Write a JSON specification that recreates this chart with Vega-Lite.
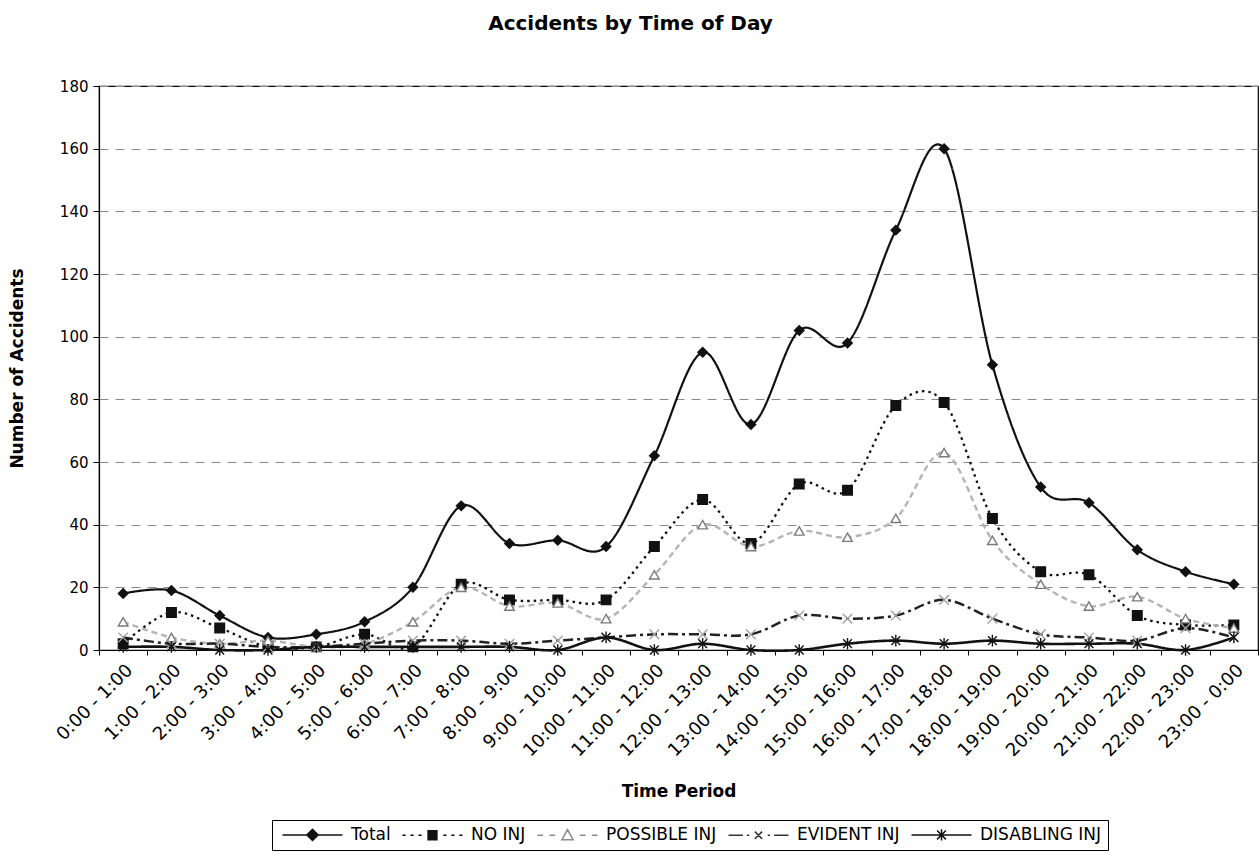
{
  "$schema": "https://vega.github.io/schema/vega-lite/v6.json",
  "autosize": {"type": "none"},
  "padding": {"left": 99, "top": 86, "right": 2, "bottom": 205},
  "width": 1159,
  "height": 564,
  "background": "white",
  "title": {
    "text": "Accidents by Time of Day",
    "font": "DejaVu Sans",
    "fontSize": 20,
    "fontWeight": "bold",
    "color": "black",
    "anchor": "middle",
    "dx": -48,
    "offset": 45
  },
  "data": {
    "values": [
      {"period": "0:00 - 1:00", "series": "Total", "count": 18},
      {"period": "1:00 - 2:00", "series": "Total", "count": 19},
      {"period": "2:00 - 3:00", "series": "Total", "count": 11},
      {"period": "3:00 - 4:00", "series": "Total", "count": 4},
      {"period": "4:00 - 5:00", "series": "Total", "count": 5},
      {"period": "5:00 - 6:00", "series": "Total", "count": 9},
      {"period": "6:00 - 7:00", "series": "Total", "count": 20},
      {"period": "7:00 - 8:00", "series": "Total", "count": 46},
      {"period": "8:00 - 9:00", "series": "Total", "count": 34},
      {"period": "9:00 - 10:00", "series": "Total", "count": 35},
      {"period": "10:00 - 11:00", "series": "Total", "count": 33},
      {"period": "11:00 - 12:00", "series": "Total", "count": 62},
      {"period": "12:00 - 13:00", "series": "Total", "count": 95},
      {"period": "13:00 - 14:00", "series": "Total", "count": 72},
      {"period": "14:00 - 15:00", "series": "Total", "count": 102},
      {"period": "15:00 - 16:00", "series": "Total", "count": 98},
      {"period": "16:00 - 17:00", "series": "Total", "count": 134},
      {"period": "17:00 - 18:00", "series": "Total", "count": 160},
      {"period": "18:00 - 19:00", "series": "Total", "count": 91},
      {"period": "19:00 - 20:00", "series": "Total", "count": 52},
      {"period": "20:00 - 21:00", "series": "Total", "count": 47},
      {"period": "21:00 - 22:00", "series": "Total", "count": 32},
      {"period": "22:00 - 23:00", "series": "Total", "count": 25},
      {"period": "23:00 - 0:00", "series": "Total", "count": 21},

      {"period": "0:00 - 1:00", "series": "NO INJ", "count": 2},
      {"period": "1:00 - 2:00", "series": "NO INJ", "count": 12},
      {"period": "2:00 - 3:00", "series": "NO INJ", "count": 7},
      {"period": "3:00 - 4:00", "series": "NO INJ", "count": 1},
      {"period": "4:00 - 5:00", "series": "NO INJ", "count": 1},
      {"period": "5:00 - 6:00", "series": "NO INJ", "count": 5},
      {"period": "6:00 - 7:00", "series": "NO INJ", "count": 1},
      {"period": "7:00 - 8:00", "series": "NO INJ", "count": 21},
      {"period": "8:00 - 9:00", "series": "NO INJ", "count": 16},
      {"period": "9:00 - 10:00", "series": "NO INJ", "count": 16},
      {"period": "10:00 - 11:00", "series": "NO INJ", "count": 16},
      {"period": "11:00 - 12:00", "series": "NO INJ", "count": 33},
      {"period": "12:00 - 13:00", "series": "NO INJ", "count": 48},
      {"period": "13:00 - 14:00", "series": "NO INJ", "count": 34},
      {"period": "14:00 - 15:00", "series": "NO INJ", "count": 53},
      {"period": "15:00 - 16:00", "series": "NO INJ", "count": 51},
      {"period": "16:00 - 17:00", "series": "NO INJ", "count": 78},
      {"period": "17:00 - 18:00", "series": "NO INJ", "count": 79},
      {"period": "18:00 - 19:00", "series": "NO INJ", "count": 42},
      {"period": "19:00 - 20:00", "series": "NO INJ", "count": 25},
      {"period": "20:00 - 21:00", "series": "NO INJ", "count": 24},
      {"period": "21:00 - 22:00", "series": "NO INJ", "count": 11},
      {"period": "22:00 - 23:00", "series": "NO INJ", "count": 8},
      {"period": "23:00 - 0:00", "series": "NO INJ", "count": 8},

      {"period": "0:00 - 1:00", "series": "POSSIBLE INJ", "count": 9},
      {"period": "1:00 - 2:00", "series": "POSSIBLE INJ", "count": 4},
      {"period": "2:00 - 3:00", "series": "POSSIBLE INJ", "count": 2},
      {"period": "3:00 - 4:00", "series": "POSSIBLE INJ", "count": 3},
      {"period": "4:00 - 5:00", "series": "POSSIBLE INJ", "count": 1},
      {"period": "5:00 - 6:00", "series": "POSSIBLE INJ", "count": 2},
      {"period": "6:00 - 7:00", "series": "POSSIBLE INJ", "count": 9},
      {"period": "7:00 - 8:00", "series": "POSSIBLE INJ", "count": 20},
      {"period": "8:00 - 9:00", "series": "POSSIBLE INJ", "count": 14},
      {"period": "9:00 - 10:00", "series": "POSSIBLE INJ", "count": 15},
      {"period": "10:00 - 11:00", "series": "POSSIBLE INJ", "count": 10},
      {"period": "11:00 - 12:00", "series": "POSSIBLE INJ", "count": 24},
      {"period": "12:00 - 13:00", "series": "POSSIBLE INJ", "count": 40},
      {"period": "13:00 - 14:00", "series": "POSSIBLE INJ", "count": 33},
      {"period": "14:00 - 15:00", "series": "POSSIBLE INJ", "count": 38},
      {"period": "15:00 - 16:00", "series": "POSSIBLE INJ", "count": 36},
      {"period": "16:00 - 17:00", "series": "POSSIBLE INJ", "count": 42},
      {"period": "17:00 - 18:00", "series": "POSSIBLE INJ", "count": 63},
      {"period": "18:00 - 19:00", "series": "POSSIBLE INJ", "count": 35},
      {"period": "19:00 - 20:00", "series": "POSSIBLE INJ", "count": 21},
      {"period": "20:00 - 21:00", "series": "POSSIBLE INJ", "count": 14},
      {"period": "21:00 - 22:00", "series": "POSSIBLE INJ", "count": 17},
      {"period": "22:00 - 23:00", "series": "POSSIBLE INJ", "count": 10},
      {"period": "23:00 - 0:00", "series": "POSSIBLE INJ", "count": 7},

      {"period": "0:00 - 1:00", "series": "EVIDENT INJ", "count": 4},
      {"period": "1:00 - 2:00", "series": "EVIDENT INJ", "count": 2},
      {"period": "2:00 - 3:00", "series": "EVIDENT INJ", "count": 2},
      {"period": "3:00 - 4:00", "series": "EVIDENT INJ", "count": 1},
      {"period": "4:00 - 5:00", "series": "EVIDENT INJ", "count": 1},
      {"period": "5:00 - 6:00", "series": "EVIDENT INJ", "count": 2},
      {"period": "6:00 - 7:00", "series": "EVIDENT INJ", "count": 3},
      {"period": "7:00 - 8:00", "series": "EVIDENT INJ", "count": 3},
      {"period": "8:00 - 9:00", "series": "EVIDENT INJ", "count": 2},
      {"period": "9:00 - 10:00", "series": "EVIDENT INJ", "count": 3},
      {"period": "10:00 - 11:00", "series": "EVIDENT INJ", "count": 4},
      {"period": "11:00 - 12:00", "series": "EVIDENT INJ", "count": 5},
      {"period": "12:00 - 13:00", "series": "EVIDENT INJ", "count": 5},
      {"period": "13:00 - 14:00", "series": "EVIDENT INJ", "count": 5},
      {"period": "14:00 - 15:00", "series": "EVIDENT INJ", "count": 11},
      {"period": "15:00 - 16:00", "series": "EVIDENT INJ", "count": 10},
      {"period": "16:00 - 17:00", "series": "EVIDENT INJ", "count": 11},
      {"period": "17:00 - 18:00", "series": "EVIDENT INJ", "count": 16},
      {"period": "18:00 - 19:00", "series": "EVIDENT INJ", "count": 10},
      {"period": "19:00 - 20:00", "series": "EVIDENT INJ", "count": 5},
      {"period": "20:00 - 21:00", "series": "EVIDENT INJ", "count": 4},
      {"period": "21:00 - 22:00", "series": "EVIDENT INJ", "count": 3},
      {"period": "22:00 - 23:00", "series": "EVIDENT INJ", "count": 7},
      {"period": "23:00 - 0:00", "series": "EVIDENT INJ", "count": 4},

      {"period": "0:00 - 1:00", "series": "DISABLING INJ", "count": 1},
      {"period": "1:00 - 2:00", "series": "DISABLING INJ", "count": 1},
      {"period": "2:00 - 3:00", "series": "DISABLING INJ", "count": 0},
      {"period": "3:00 - 4:00", "series": "DISABLING INJ", "count": 0},
      {"period": "4:00 - 5:00", "series": "DISABLING INJ", "count": 1},
      {"period": "5:00 - 6:00", "series": "DISABLING INJ", "count": 1},
      {"period": "6:00 - 7:00", "series": "DISABLING INJ", "count": 1},
      {"period": "7:00 - 8:00", "series": "DISABLING INJ", "count": 1},
      {"period": "8:00 - 9:00", "series": "DISABLING INJ", "count": 1},
      {"period": "9:00 - 10:00", "series": "DISABLING INJ", "count": 0},
      {"period": "10:00 - 11:00", "series": "DISABLING INJ", "count": 4},
      {"period": "11:00 - 12:00", "series": "DISABLING INJ", "count": 0},
      {"period": "12:00 - 13:00", "series": "DISABLING INJ", "count": 2},
      {"period": "13:00 - 14:00", "series": "DISABLING INJ", "count": 0},
      {"period": "14:00 - 15:00", "series": "DISABLING INJ", "count": 0},
      {"period": "15:00 - 16:00", "series": "DISABLING INJ", "count": 2},
      {"period": "16:00 - 17:00", "series": "DISABLING INJ", "count": 3},
      {"period": "17:00 - 18:00", "series": "DISABLING INJ", "count": 2},
      {"period": "18:00 - 19:00", "series": "DISABLING INJ", "count": 3},
      {"period": "19:00 - 20:00", "series": "DISABLING INJ", "count": 2},
      {"period": "20:00 - 21:00", "series": "DISABLING INJ", "count": 2},
      {"period": "21:00 - 22:00", "series": "DISABLING INJ", "count": 2},
      {"period": "22:00 - 23:00", "series": "DISABLING INJ", "count": 0},
      {"period": "23:00 - 0:00", "series": "DISABLING INJ", "count": 4}
    ]
  },
  "encoding": {
    "x": {
      "field": "period",
      "type": "nominal",
      "sort": null,
      "scale": {"type": "band", "paddingInner": 0, "paddingOuter": 0},
      "axis": {
        "title": "Time Period",
        "titleFont": "DejaVu Sans",
        "titleFontSize": 17,
        "titleFontWeight": "bold",
        "titleColor": "black",
        "titlePadding": 24,
        "labelAngle": -45,
        "labelFont": "DejaVu Sans",
        "labelFontSize": 18,
        "labelColor": "black",
        "labelPadding": 6,
        "tickBand": "extent",
        "tickColor": "black",
        "tickSize": 5,
        "domainColor": "black",
        "domainWidth": 1.2,
        "grid": false
      }
    },
    "y": {
      "field": "count",
      "type": "quantitative",
      "scale": {"domain": [0, 180], "nice": false, "zero": true},
      "axis": {
        "title": "Number of Accidents",
        "titleFont": "DejaVu Sans",
        "titleFontSize": 17,
        "titleFontWeight": "bold",
        "titleColor": "black",
        "titlePadding": 33,
        "values": [0, 20, 40, 60, 80, 100, 120, 140, 160, 180],
        "labelFont": "DejaVu Sans",
        "labelFontSize": 15,
        "labelColor": "black",
        "labelPadding": 5,
        "tickColor": "black",
        "tickSize": 6,
        "domainColor": "black",
        "domainWidth": 1.2,
        "grid": true,
        "gridColor": "#8a8a8a",
        "gridDash": [9, 7],
        "gridWidth": 1
      }
    }
  },
  "layer": [
    {
      "mark": {"type": "line", "interpolate": "cardinal", "tension": 0},
      "encoding": {
        "stroke": {
          "field": "series",
          "type": "nominal",
          "legend": null,
          "scale": {
            "domain": ["Total", "NO INJ", "POSSIBLE INJ", "EVIDENT INJ", "DISABLING INJ"],
            "range": ["#111111", "#111111", "#b4b4b4", "#222222", "#111111"]
          }
        },
        "strokeDash": {
          "field": "series",
          "type": "nominal",
          "legend": null,
          "scale": {
            "domain": ["Total", "NO INJ", "POSSIBLE INJ", "EVIDENT INJ", "DISABLING INJ"],
            "range": [[1, 0], [2.5, 4], [6, 4], [10, 4, 3, 4], [1, 0]]
          }
        },
        "strokeWidth": {
          "field": "series",
          "type": "nominal",
          "legend": null,
          "scale": {
            "domain": ["Total", "NO INJ", "POSSIBLE INJ", "EVIDENT INJ", "DISABLING INJ"],
            "range": [2.2, 2.6, 1.8, 2.2, 1.7]
          }
        }
      }
    },
    {
      "mark": {"type": "point", "opacity": 1, "strokeWidth": 1.4},
      "encoding": {
        "shape": {
          "field": "series",
          "type": "nominal",
          "legend": null,
          "scale": {
            "domain": ["Total", "NO INJ", "POSSIBLE INJ", "EVIDENT INJ", "DISABLING INJ"],
            "range": [
              "diamond",
              "square",
              "triangle-up",
              "M-1,-1L1,1M-1,1L1,-1",
              "M-0.9,-0.9L0.9,0.9M-0.9,0.9L0.9,-0.9M0,-1.2V1.2"
            ]
          }
        },
        "fill": {
          "field": "series",
          "type": "nominal",
          "legend": null,
          "scale": {
            "domain": ["Total", "NO INJ", "POSSIBLE INJ", "EVIDENT INJ", "DISABLING INJ"],
            "range": ["#111111", "#111111", "#ffffff", "transparent", "transparent"]
          }
        },
        "stroke": {
          "field": "series",
          "type": "nominal",
          "legend": null,
          "scale": {
            "domain": ["Total", "NO INJ", "POSSIBLE INJ", "EVIDENT INJ", "DISABLING INJ"],
            "range": ["#111111", "#111111", "#7a7a7a", "#a0a0a0", "#111111"]
          }
        },
        "size": {
          "field": "series",
          "type": "nominal",
          "legend": null,
          "scale": {
            "domain": ["Total", "NO INJ", "POSSIBLE INJ", "EVIDENT INJ", "DISABLING INJ"],
            "range": [90, 95, 100, 45, 55]
          }
        }
      }
    },
    {
      "transform": [{"filter": "false"}],
      "mark": {"type": "point", "opacity": 1},
      "encoding": {
        "shape": {
          "field": "series",
          "type": "nominal",
          "scale": {
            "domain": ["Total", "NO INJ", "POSSIBLE INJ", "EVIDENT INJ", "DISABLING INJ"],
            "range": [
              "M-1,0H5.1M7.9,0H14M6.5,-1.4L7.9,0L6.5,1.4L5.1,0Z",
              "M-1,0H-0.2M1,0H1.8M3,0H3.8M5.4,-1.1H7.6V1.1H5.4ZM9.2,0H10M11.2,0H12M13.2,0H14",
              "M-1,0H0.4M2,0H3.4M6.5,-1.4L7.9,1.1H5.1ZM9.6,0H11M12.6,0H14",
              "M-1,0H2.6M3.6,0H4.2M5.6,-0.9L7.4,0.9M5.6,0.9L7.4,-0.9M8.8,0H9.4M10.4,0H14",
              "M-1,0H14M5.4,-1.1L7.6,1.1M5.4,1.1L7.6,-1.1M6.5,-1.4V1.4"
            ]
          },
          "legend": {
            "orient": "none",
            "legendX": 173,
            "legendY": 734,
            "direction": "horizontal",
            "title": null,
            "strokeColor": "black",
            "padding": 6,
            "symbolSize": 64,
            "symbolStrokeWidth": 1.5,
            "labelFont": "DejaVu Sans",
            "labelFontSize": 17,
            "labelColor": "black",
            "labelOffset": 56,
            "columnPadding": 7
          }
        },
        "fill": {
          "field": "series",
          "type": "nominal",
          "scale": {
            "domain": ["Total", "NO INJ", "POSSIBLE INJ", "EVIDENT INJ", "DISABLING INJ"],
            "range": ["#111111", "#111111", "#ffffff", "transparent", "transparent"]
          }
        },
        "stroke": {
          "field": "series",
          "type": "nominal",
          "scale": {
            "domain": ["Total", "NO INJ", "POSSIBLE INJ", "EVIDENT INJ", "DISABLING INJ"],
            "range": ["#111111", "#111111", "#8a8a8a", "#333333", "#111111"]
          }
        }
      }
    }
  ],
  "resolve": {
    "scale": {
      "stroke": "independent",
      "fill": "independent",
      "shape": "independent",
      "size": "independent",
      "strokeDash": "independent",
      "strokeWidth": "independent"
    },
    "legend": {
      "stroke": "independent",
      "fill": "independent",
      "shape": "independent",
      "size": "independent",
      "strokeDash": "independent",
      "strokeWidth": "independent"
    }
  },
  "config": {
    "view": {"stroke": "black", "strokeWidth": 1.2},
    "font": "DejaVu Sans"
  }
}
